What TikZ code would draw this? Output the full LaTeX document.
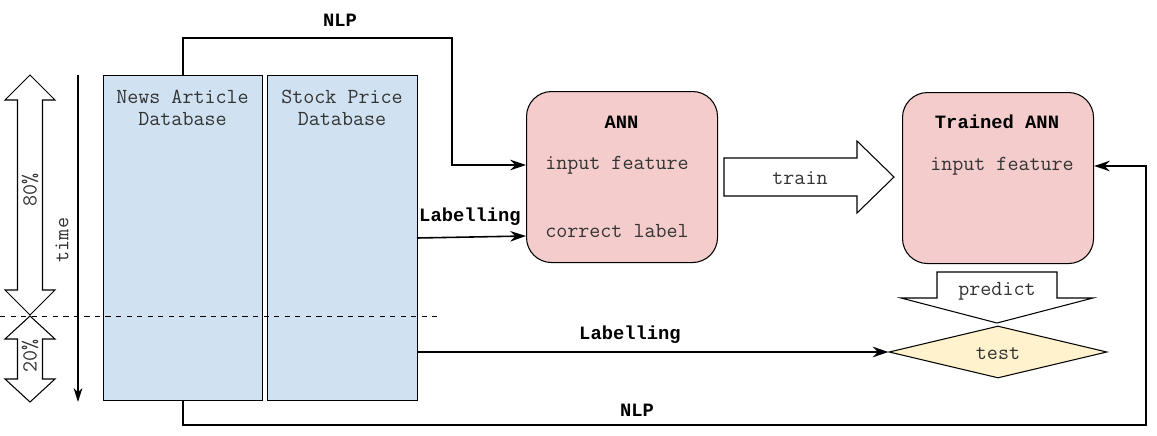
\documentclass[tikz,border=0pt]{standalone}
\usepackage{fontspec}
\newfontfamily\boldmono{Liberation Mono}
\usetikzlibrary{arrows.meta}
\usetikzlibrary{shapes.geometric}
\usepackage{xcolor}

\definecolor{dbblue}{HTML}{D0E2F2}
\definecolor{annpink}{HTML}{F4CCCC}
\definecolor{testyellow}{HTML}{FFF2CC}
\definecolor{txtgrey}{HTML}{333333}

\tikzset{
  mono/.style={font=\ttfamily\fontsize{12.2}{12.5}\selectfont, text=txtgrey, inner sep=0pt},
  monobold/.style={font=\boldmono\bfseries\fontsize{10.7}{12.5}\selectfont, text=black, inner sep=0pt},
  dbbox/.style={draw, line width=0.6pt, fill=dbblue, anchor=north west, inner sep=0pt},
  annbox/.style={draw, line width=0.6pt, fill=annpink, rounded corners=0.5cm, anchor=north west, inner sep=0pt},
  blockarrow/.style={draw, line width=0.6pt, fill=white},
  flow/.style={line width=0.9pt, -{Stealth[length=9pt,width=6pt]}},
  plainflow/.style={line width=0.9pt}
}

\begin{document}
\begin{tikzpicture}[x=0.02cm,y=-0.02cm]
\newcommand{\vsplitarrow}[4]{
  % x centre, top tip, bottom tip, head length
  \draw[blockarrow] (#1,#2) -- (#1+25,#2+#4) -- (#1+12.5,#2+#4) -- (#1+12.5,#3-#4)
    -- (#1+25,#3-#4) -- (#1,#3) -- (#1-25,#3-#4) -- (#1-12.5,#3-#4)
    -- (#1-12.5,#2+#4) -- (#1-25,#2+#4) -- cycle;
}
\useasboundingbox (0,0) rectangle (1157,436);

% split of the data
\vsplitarrow{30}{75}{315}{25}
\vsplitarrow{30}{316}{402}{23}
\node[mono, rotate=90] (eighty) at (30,190) {80\%};
\node[mono, rotate=90] (twenty) at (30,356) {20\%};

% databases
\node[dbbox, minimum width=159*0.02cm, minimum height=325*0.02cm] (news) at (103,75) {};
\node[dbbox, minimum width=150*0.02cm, minimum height=325*0.02cm] (stock) at (267,75) {};
\node[mono, align=center] (newslbl) at (182.5,108) {News Article\\Database};
\node[mono, align=center] (stocklbl) at (342,108) {Stock Price\\Database};

% time axis
\coordinate (ttop) at (78,75);
\coordinate (tbot) at (78,402);
\draw[line width=0.9pt, -{Stealth[length=8pt,width=5pt]}] (ttop) -- (tbot);
\node[mono, rotate=90] (timelbl) at (62,240) {time};
\draw[dashed, line width=0.5pt] (0,316) -- (440,316);

% networks
\node[annbox, minimum width=191*0.02cm, minimum height=171*0.02cm] (ann) at (526,91) {};
\node[monobold] (annlbl) at (621.5,122) {ANN};
\node[mono] (annin) at (617,165) {input feature};
\node[mono] (anncorr) at (617,231) {correct label};

\node[annbox, minimum width=191*0.02cm, minimum height=171*0.02cm] (tann) at (902,92) {};
\node[monobold] (tannlbl) at (997,122) {Trained ANN};
\node[mono] (tannin) at (1002,166) {input feature};

% train and predict
\draw[blockarrow] (724,158) -- (857,158) -- (857,141) -- (894,177) -- (857,213)
  -- (857,196) -- (724,196) -- cycle;
\node[mono] (trainlbl) at (800,178) {train};
\draw[blockarrow] (937,272) -- (1057,272) -- (1057,298) -- (1093,298) -- (997,323)
  -- (901,298) -- (937,298) -- cycle;
\node[mono] (predictlbl) at (997,291) {predict};

\node[diamond, draw, line width=0.6pt, fill=testyellow, inner sep=0pt,
  minimum width=218*0.02cm, minimum height=52*0.02cm] (test) at (998,352) {};
\node[mono] (testlbl) at (998,354) {test};

% connectors
\coordinate (nlpa) at (452,38);
\draw[flow] (news.north) |- (nlpa) |- (ann.west |- annin);
\node[monobold] (nlpalbl) at (340,20) {NLP};

\coordinate (laba) at (417,238);
\draw[flow] (laba) -- (ann.west |- 0,236);
\node[monobold] (labalbl) at (470,217) {Labelling};

\draw[flow] (stock.east |- test) -- (test.west);
\node[monobold] (labblbl) at (630,335) {Labelling};

\coordinate (nlpb) at (1146,425);
\draw[flow] (news.south) |- (nlpb) |- (tann.east |- tannin);
\node[monobold] (nlpblbl) at (637,410) {NLP};

\end{tikzpicture}
\end{document}
